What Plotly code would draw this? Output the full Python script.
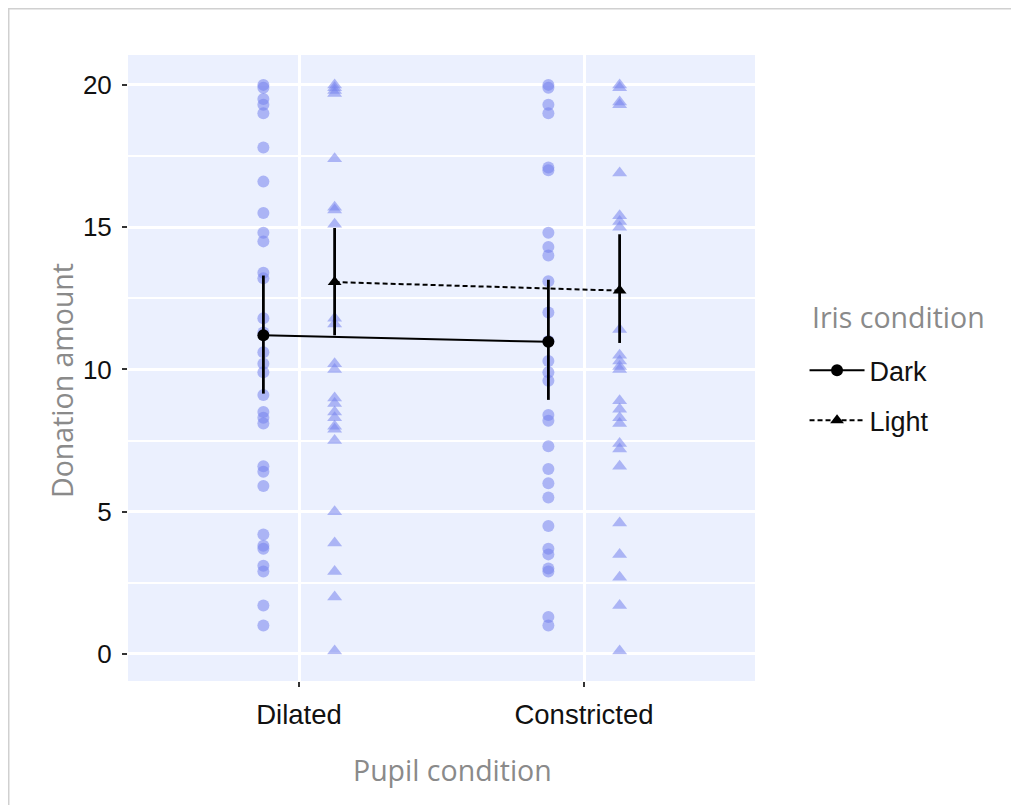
import plotly.graph_objects as go

categories = ["Dilated", "Constricted"]
groups = ["Dark", "Light"]

dilated_dark = [20.0, 19.9, 19.5, 19.3, 19.0, 17.8, 16.6, 15.5, 14.8, 14.5, 13.4, 13.2,
                11.8, 11.3, 10.6, 10.2, 9.9, 9.1, 8.5, 8.3, 8.1, 6.6, 6.4, 5.9, 4.2,
                3.8, 3.7, 3.1, 2.9, 1.7, 1.0]
dilated_light = [20.0, 19.9, 19.8, 19.7, 17.4, 15.7, 15.6, 15.1, 11.8, 11.6, 10.2, 10.0,
                 9.0, 8.8, 8.5, 8.3, 8.0, 7.9, 7.5, 5.0, 3.9, 2.9, 2.0, 0.1]
constricted_dark = [20.0, 19.9, 19.3, 19.0, 17.1, 17.0, 14.8, 14.3, 14.0, 13.1, 12.0,
                    11.0, 10.3, 9.9, 9.6, 8.4, 8.2, 7.3, 6.5, 6.0, 5.5, 4.5, 3.7, 3.5,
                    3.0, 2.9, 1.3, 1.0]
constricted_light = [20.0, 19.9, 19.4, 19.3, 16.9, 15.4, 15.2, 15.0, 11.4, 10.5, 10.3,
                     10.1, 10.0, 8.9, 8.6, 8.3, 8.1, 7.4, 7.2, 6.6, 4.6, 3.5, 2.7, 1.7, 0.1]

mean_dark = [11.2, 10.97]
mean_light = [13.07, 12.77]
ci_low_dark = [9.15, 8.93]
ci_high_dark = [13.3, 13.15]
ci_low_light = [11.2, 10.93]
ci_high_light = [14.97, 14.75]

y_ticks = [0, 5, 10, 15, 20]

x_title = "Pupil condition"
y_title = "Donation amount"
legend_title = "Iris condition"

DODGE = 0.125
cat_pos = [1, 2]
point_color = "rgba(118,132,236,0.55)"
TICK_FONT = "Liberation Sans, Arial, sans-serif"
TITLE_FONT = "Open Sans, Noto Sans, sans-serif"
GREY = "#8a8a8a"

fig = go.Figure()

raw = {"Dark": [dilated_dark, constricted_dark], "Light": [dilated_light, constricted_light]}
for g, off, sym, sz in [("Dark", -DODGE, "circle", 12), ("Light", DODGE, "triangle-up", 13)]:
    xs, ys = [], []
    for pos, vals in zip(cat_pos, raw[g]):
        xs += [pos + off] * len(vals)
        ys += vals
    fig.add_trace(go.Scatter(x=xs, y=ys, mode="markers", showlegend=False,
                             marker=dict(symbol=sym, size=sz, color=point_color,
                                         line=dict(width=0)),
                             hoverinfo="skip"))

summary = [
    ("Dark", -DODGE, mean_dark, ci_low_dark, ci_high_dark, "circle", "solid", 12),
    ("Light", DODGE, mean_light, ci_low_light, ci_high_light, "triangle-up", "5px,3px", 12),
]
for name, off, m, lo, hi, sym, dash, sz in summary:
    xs = [p + off for p in cat_pos]
    fig.add_trace(go.Scatter(
        x=xs, y=m, mode="lines+markers", name=name, legendgroup=name,
        line=dict(color="black", width=2, dash=dash),
        marker=dict(symbol=sym, size=sz, color="black"),
        error_y=dict(type="data", symmetric=False,
                     array=[h - v for h, v in zip(hi, m)],
                     arrayminus=[v - l for v, l in zip(m, lo)],
                     color="black", thickness=2.8, width=0),
    ))

title_font = dict(size=28.5, color=GREY, family=TITLE_FONT)

fig.update_layout(
    width=1011, height=797,
    margin=dict(l=120, r=264, t=47, b=124),
    paper_bgcolor="white",
    plot_bgcolor="#EBF0FE",
    font=dict(family=TICK_FONT, color="#222"),
    xaxis=dict(
        tickmode="array", tickvals=cat_pos, ticktext=categories,
        range=[0.4, 2.6], showgrid=True, gridcolor="white", gridwidth=2.5,
        zeroline=False, ticks="outside", ticklen=5, tickwidth=1.5, tickcolor="#333",
        ticklabelstandoff=4,
        tickfont=dict(size=27.5, color="#111", family=TICK_FONT),
    ),
    yaxis=dict(
        tickmode="array", tickvals=y_ticks, range=[-0.95, 21.05],
        showgrid=True, gridcolor="white", gridwidth=2.5, zeroline=False,
        minor=dict(tickmode="array", tickvals=[2.5, 7.5, 12.5, 17.5],
                   showgrid=True, gridcolor="white", gridwidth=2.2, ticks=""),
        ticks="outside", ticklen=5, tickwidth=1.5, tickcolor="#333",
        ticklabelstandoff=5,
        tickfont=dict(size=26, color="#111", family=TICK_FONT),
    ),
    legend=dict(
        x=1.079, y=0.535, xanchor="left", yanchor="top",
        font=dict(size=27, color="#111", family=TICK_FONT),
        tracegroupgap=12, itemwidth=55,
    ),
    annotations=[
        dict(text=x_title, xref="paper", yref="paper", x=0.518, y=-0.142,
             xanchor="center", yanchor="middle", showarrow=False, font=title_font),
        dict(text=y_title, xref="paper", yref="paper", x=-0.1053, y=0.4808,
             xanchor="center", yanchor="middle", showarrow=False, textangle=-90,
             font=title_font),
        dict(text=legend_title, xref="paper", yref="paper", x=1.0885, y=0.5815,
             xanchor="left", yanchor="middle", showarrow=False, font=title_font),
    ],
    shapes=[dict(type="rect", xref="paper", yref="paper",
                 x0=-0.1902, x1=1.4163, y0=-0.22, y1=1.0739,
                 line=dict(color="#d0d0d0", width=1.5), fillcolor="rgba(0,0,0,0)",
                 layer="below")],
)

fig.write_html("out.html")
